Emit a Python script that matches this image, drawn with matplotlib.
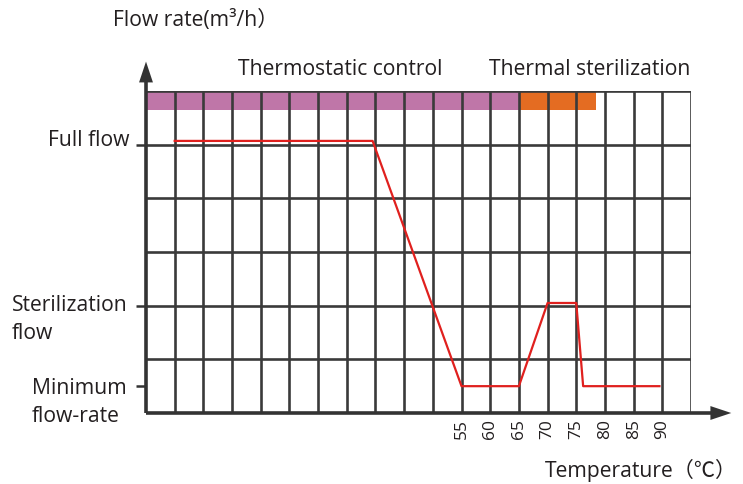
import matplotlib
matplotlib.use("Agg")
import matplotlib.pyplot as plt

# ── Data ──────────────────────────────────────────────────────────────────────
flow_temp = [5, 39.5, 55, 65, 70, 75, 76.2, 89.5]
flow_level = [5.07, 5.07, 0.5, 0.5, 2.05, 2.05, 0.5, 0.5]

tick_temps = [55, 60, 65, 70, 75, 80, 85, 90]
level_ticks = [5, 2, 0.5]
level_labels = ["Full flow", "Sterilization\nflow", "Minimum\nflow-rate"]

stages = ["Thermostatic control", "Thermal sterilization"]
stage_start = [0, 65]
stage_end = [65, 78.4]
stage_label_x = [33.8, 77.3]

COLORS = {
    "grid": "#3a3a3a",
    "axis": "#333333",
    "line": "#e0201e",
    "text": "#231f20",
    "bands": ["#bf76a8", "#e46c22"],
}
FONT = ["Open Sans", "Noto Sans CJK SC", "DejaVu Sans"]
FS = 15.2

W, H = 743, 485
fig = plt.figure(figsize=(W / 100, H / 100), dpi=100, facecolor="white")
# plot region in pixels: x 146..691 (0..95 degC), y 414..92 (0..6)
ax = fig.add_axes([146 / W, 1 - 414 / H, (691 - 146) / W, (414 - 92) / H])
ax.set_xlim(0, 95)
ax.set_ylim(0, 6)
ax.axis("off")
px_x = 95 / (691 - 146)   # degC per pixel
px_y = 6 / (414 - 92)     # level units per pixel

# stage bands
for i, (s0, s1, c) in enumerate(zip(stage_start, stage_end, COLORS["bands"])):
    top = 6.04 if i == 1 else 6.0
    ax.fill_between([s0, s1], 5.65, top, color=c, lw=0, zorder=1)
for name, xc in zip(stages, stage_label_x):
    ax.text(xc, 6.42, name, ha="center", va="center", fontsize=FS,
            color=COLORS["text"], family=FONT, clip_on=False)

# grid
ax.vlines(range(5, 96, 5), 0, 6, color=COLORS["grid"], lw=1.9, zorder=2)
ax.hlines([1, 2, 3, 4, 5, 6], 0, 95, color=COLORS["grid"], lw=1.9, zorder=2)

# axes with arrows
ax.plot([0, 0], [0, 6.2], color=COLORS["axis"], lw=2.6, clip_on=False,
        solid_capstyle="butt", zorder=3)
ax.plot([0, 99], [0, 0], color=COLORS["axis"], lw=2.6, clip_on=False,
        solid_capstyle="butt", zorder=3)
ax.annotate("", xy=(0, 6.6), xytext=(0, 6.1), xycoords="data",
            arrowprops=dict(arrowstyle="-|>,head_length=1.5,head_width=0.5",
                            color=COLORS["axis"], lw=0), annotation_clip=False)
ax.annotate("", xy=(102.5, 0), xytext=(97, 0), xycoords="data",
            arrowprops=dict(arrowstyle="-|>,head_length=1.5,head_width=0.5",
                            color=COLORS["axis"], lw=0), annotation_clip=False)

# flow curve
ax.plot(flow_temp, flow_level, color=COLORS["line"], lw=1.6, zorder=4)

# y ticks + labels
for yv in level_ticks:
    ax.plot([-1.8, 0], [yv, yv], color=COLORS["axis"], lw=1.8, clip_on=False,
            solid_capstyle="butt")
label_pos = [(-2.8, 5.1, "right"), ((12 - 146) * px_x, 2.03, "left"),
             ((32 - 146) * px_x, 0.48, "left")]
for lab, (lx, ly, ha) in zip(level_labels, label_pos):
    for k, line in enumerate(lab.split("\n")):
        ax.text(lx, ly - k * 28 * px_y, line, ha=ha, va="center",
                fontsize=FS, color=COLORS["text"], family=FONT)

# x tick labels
for t in tick_temps:
    ax.text(t, -0.1, str(t), rotation=90, ha="center", va="top",
            fontsize=12.5, color=COLORS["text"], family=FONT)

# axis titles
fig.text(113 / W, 1 - 20 / H, "Flow rate(m³/h）", ha="left", va="center",
         fontsize=FS, color=COLORS["text"], family=FONT)
fig.text(545 / W, 1 - 470 / H, "Temperature（℃）", ha="left", va="center",
         fontsize=FS, color=COLORS["text"], family=FONT)

fig.savefig("out.png", dpi=100, facecolor="white")
